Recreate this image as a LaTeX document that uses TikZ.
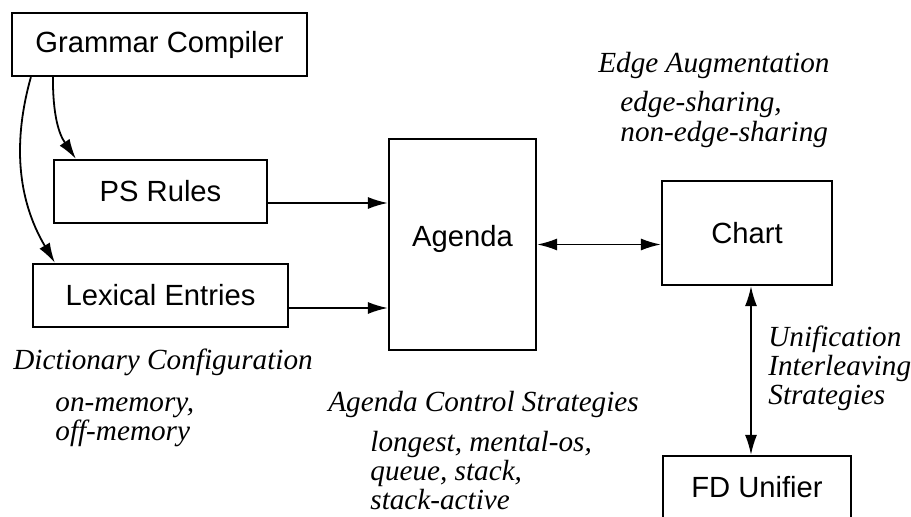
\documentclass[tikz,border=0pt]{standalone}
\usepackage{fontspec}
\setmainfont{Liberation Serif}
\setsansfont{Liberation Sans}
\usetikzlibrary{arrows.meta, positioning, calc}

\begin{document}
\begin{tikzpicture}[
  x=0.5pt, y=-0.5pt,
  box/.style={rectangle, draw=black, line width=1.1pt, inner sep=0pt,
              minimum height=31.5pt, text centered,
              font=\sffamily\fontsize{14.6}{17}\selectfont},
  note/.style={inner sep=0pt, anchor=base west, align=left,
               font=\itshape\fontsize{14.6}{14.5}\selectfont},
  arrow/.style={-{Latex[length=10pt,width=6pt]}, line width=0.9pt},
  biarrow/.style={{Latex[length=10pt,width=6pt]}-{Latex[length=10pt,width=6pt]}, line width=0.9pt}
]
\useasboundingbox (0,0) rectangle (911,517);
\node[box, minimum width=147.5pt] (gc)     at (159.5,44.5) {Grammar Compiler};
\node[box, minimum width=106.5pt] (ps)     at (160.5,191.5) {PS Rules};
\node[box, minimum width=127.5pt] (lex)    at (160.5,295.5) {Lexical Entries\hspace{10pt}};
\node[box, minimum width=73.5pt, minimum height=105.5pt] (agenda) at (462.5,244.5)
      {\raisebox{9pt}{Agenda}};
\node[box, minimum width=85pt, minimum height=52pt]      (chart)  at (747,233) {Chart\hspace{8pt}};
\node[box, minimum width=94pt, minimum height=31pt]      (fd)     at (757,487) {FD Unifier\hspace{7pt}};
% strategy labels (multi-line ones sit on their last line)
\node[note] (edgeaug)   at (598,73)  {Edge Augmentation};
\node[note, font=\itshape\fontsize{14.6}{15}\selectfont] (edgeopts) at (620,142)
      {edge-sharing,\\non-edge-sharing};
\node[note] (dictconf)  at (13,370)  {Dictionary Configuration};
\node[note] (dictopts)  at (55,441)  {on-memory,\\off-memory};
\node[note] (agctrl)    at (328,412) {Agenda Control Strategies};
\node[note] (agopts)    at (370,510) {longest, mental-os,\\queue, stack,\\stack-active};
\node[note] (unifstrat) at (768,405) {Unification\\Interleaving\\Strategies};
\draw[arrow] ([xshift=21pt]gc.south west)
  .. controls +(0,39) and +(-17,-25) .. ([xshift=11.5pt]ps.north west);
\draw[arrow] ([xshift=10pt]gc.south west)
  .. controls +(-18,64) and +(-38,-64) .. ([xshift=11.5pt]lex.north west);
\draw[arrow] ([yshift=-5.75pt]ps.east)  -- ([yshift=-5.75pt]ps.east -| agenda.west);
\draw[arrow] ([yshift=-6.25pt]lex.east) -- ([yshift=-6.25pt]lex.east -| agenda.west);
\draw[biarrow] (agenda.east) -- (agenda.east -| chart.west);
\draw[biarrow] ([xshift=2pt]chart.south) -- ([xshift=2pt]chart.south |- fd.north);
\end{tikzpicture}
\end{document}
